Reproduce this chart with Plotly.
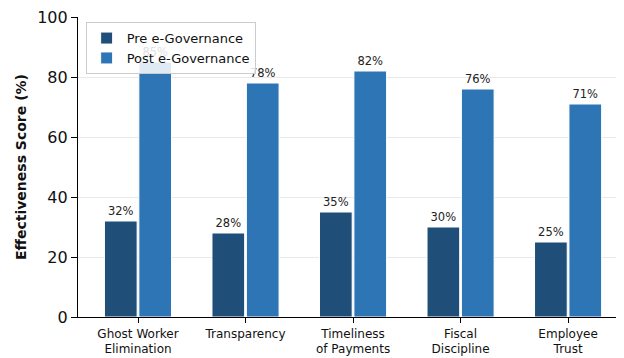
import plotly.graph_objects as go

categories = ["Ghost Worker<br>Elimination", "Transparency", "Timeliness<br>of Payments", "Fiscal<br>Discipline", "Employee<br>Trust"]
pre_values = [32, 28, 35, 30, 25]
post_values = [85, 78, 82, 76, 71]
y_ticks = [0, 20, 40, 60, 80, 100]

font_family = "DejaVu Sans"

fig = go.Figure()
fig.add_trace(go.Bar(
    name="Pre e-Governance", x=categories, y=pre_values,
    marker=dict(color="#1f4e79", line=dict(color="white", width=1)),
    texttemplate="%{y}%", textposition="outside", cliponaxis=False,
    textfont=dict(size=11.5, color="#222", family=font_family),
))
fig.add_trace(go.Bar(
    name="Post e-Governance", x=categories, y=post_values,
    marker=dict(color="#2e75b6", line=dict(color="white", width=1)),
    texttemplate="%{y}%", textposition="outside", cliponaxis=False,
    textfont=dict(size=11.5, color="#222", family=font_family),
))

fig.update_layout(
    width=616, height=350,
    margin=dict(l=70, r=0, t=9, b=41, autoexpand=False),
    paper_bgcolor="white", plot_bgcolor="white",
    barmode="group", bargap=0.36, bargroupgap=0.05,
    font=dict(family=font_family, color="black"),
    legend=dict(
        x=0.014, y=0.983, xanchor="left", yanchor="top",
        bgcolor="rgba(255,255,255,0.85)", bordercolor="#cccccc", borderwidth=1,
        font=dict(size=13, family=font_family, color="#111"),
        itemwidth=30, tracegroupgap=0,
    ),
    xaxis=dict(
        type="category", range=[-0.558, 4.52], automargin=False,
        showline=True, linecolor="black", linewidth=1.2,
        ticks="outside", ticklen=5, tickcolor="black",
        tickfont=dict(size=12, family=font_family, color="#111"),
        showgrid=False, zeroline=False,
    ),
    yaxis=dict(
        range=[0, 100], tickvals=y_ticks, automargin=False,
        ticklabeloverflow="allow",
        showline=True, linecolor="black", linewidth=1.2,
        ticks="outside", ticklen=6, tickcolor="black",
        tickfont=dict(size=16, family=font_family, color="#111"),
        showgrid=True, gridcolor="rgba(200,200,200,0.4)", gridwidth=1,
        zeroline=False, layer="above traces",
        title=dict(text="<b>Effectiveness Score (%)</b>", font=dict(size=14, family=font_family, color="#111"), standoff=7),
    ),
)

fig.write_html("out.html")
